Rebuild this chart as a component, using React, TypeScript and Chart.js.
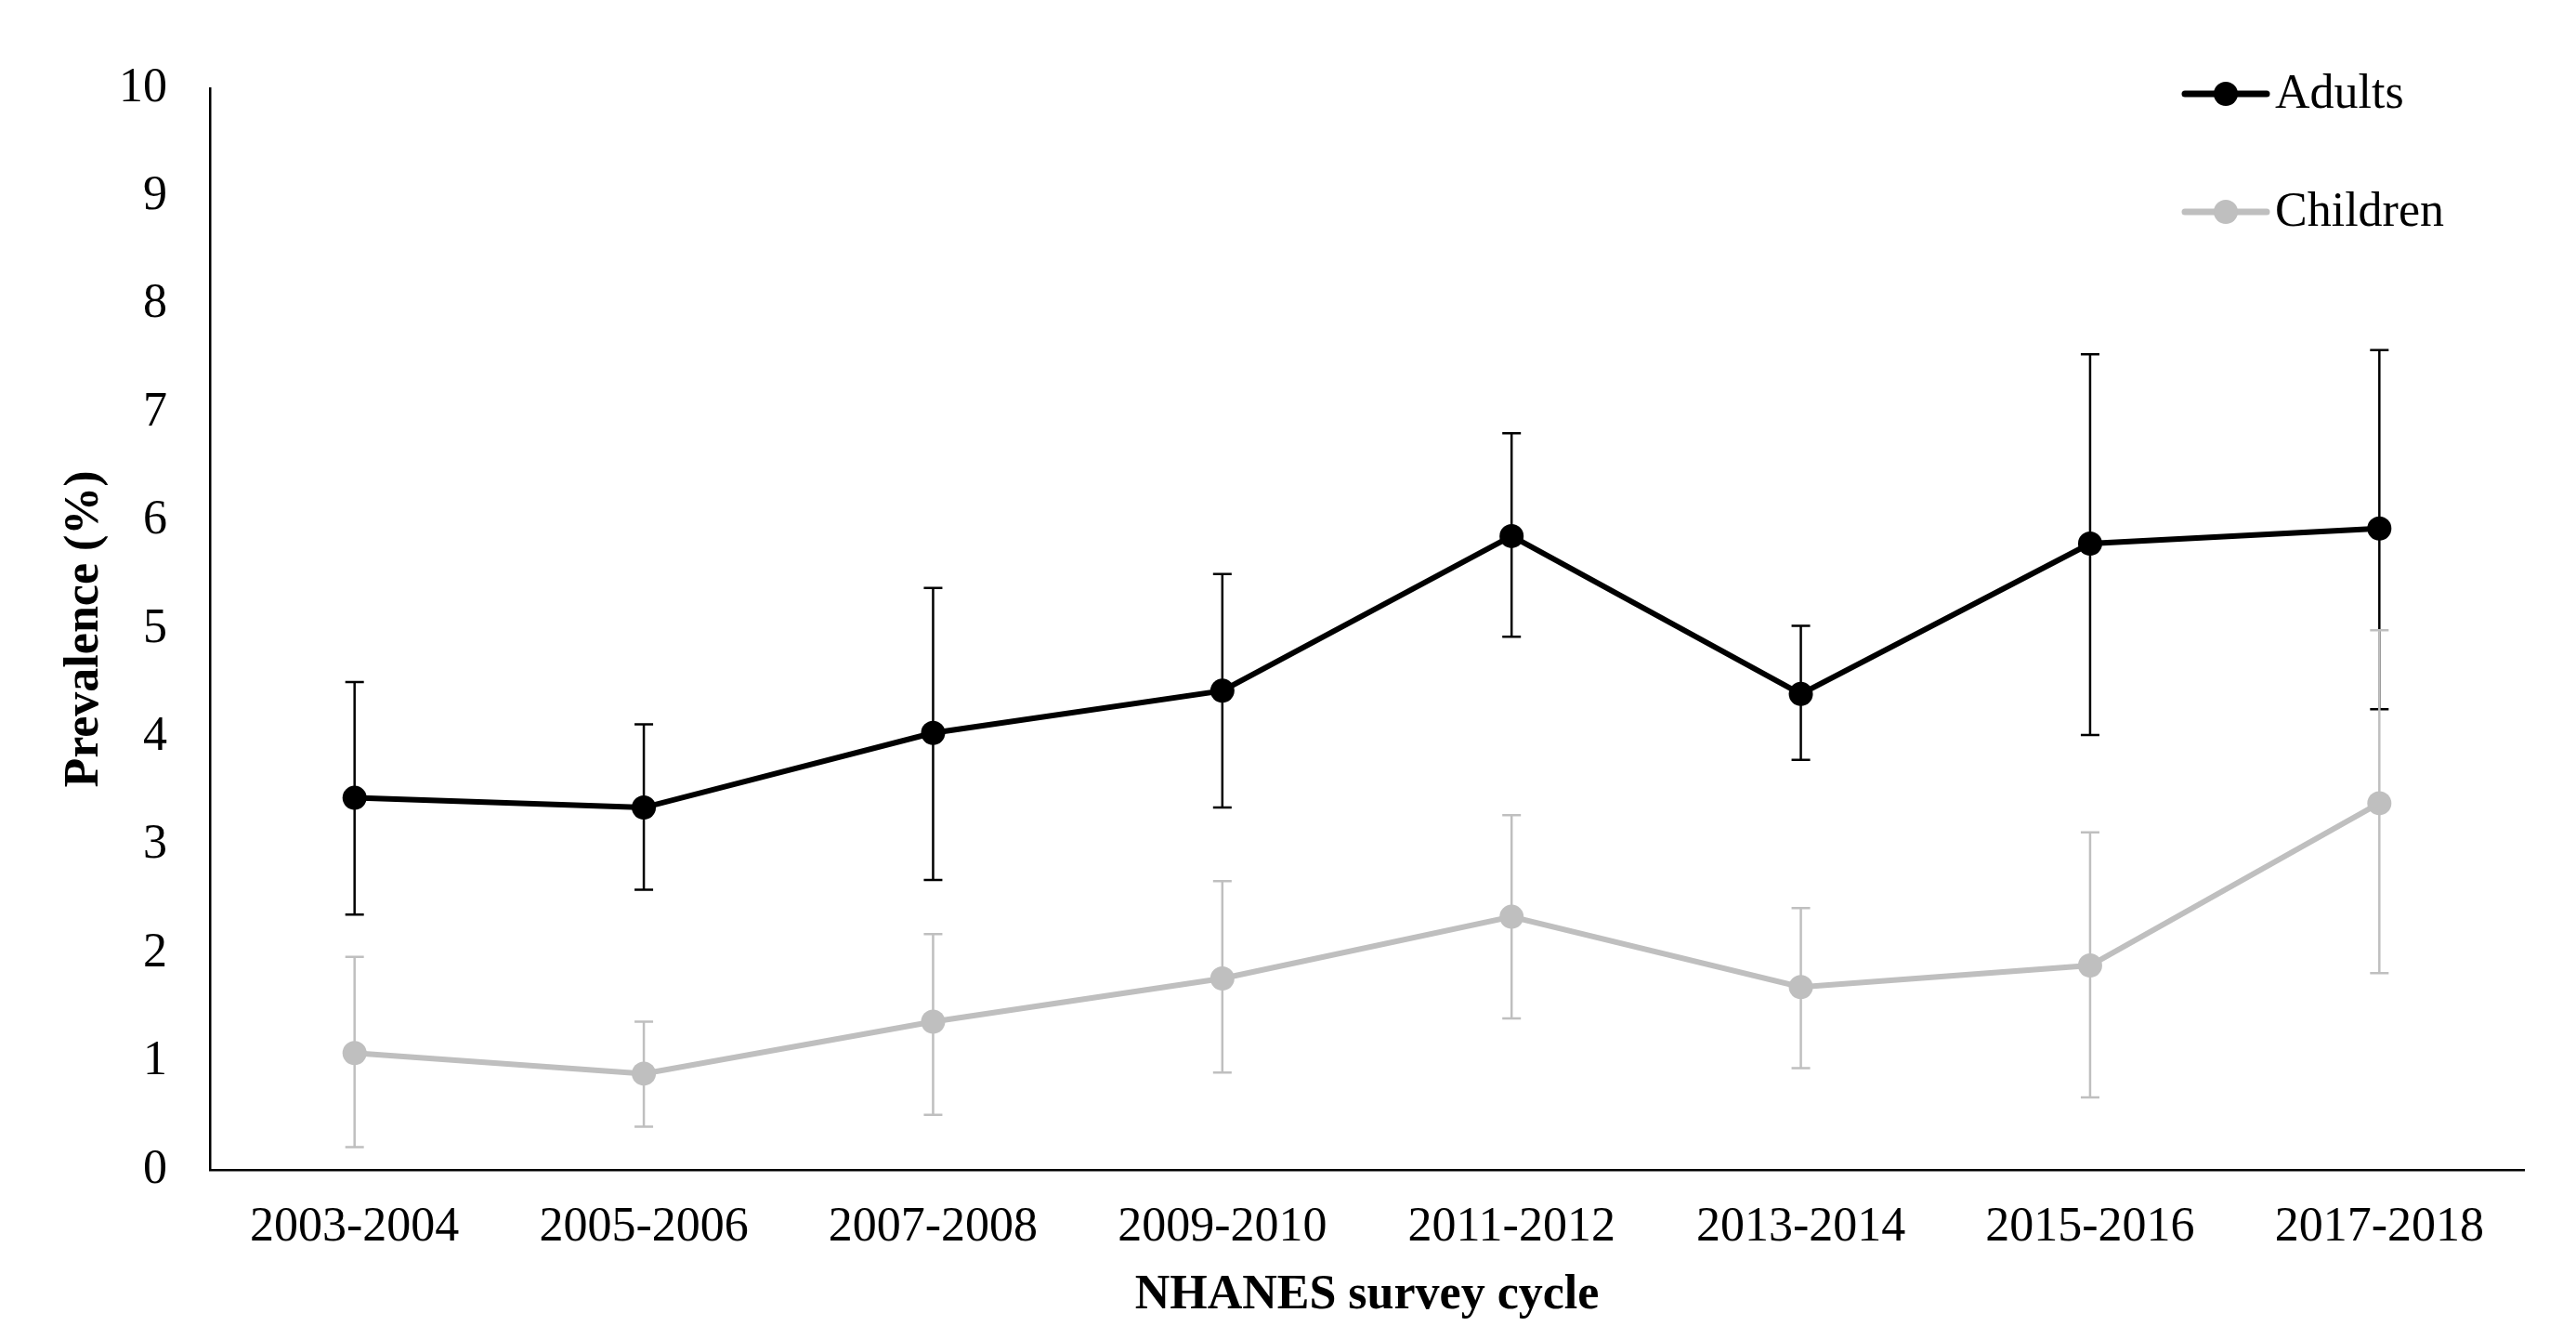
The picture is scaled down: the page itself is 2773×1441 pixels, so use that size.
import React, { useEffect, useRef } from 'react';
import { Chart, registerables } from 'chart.js';

Chart.register(...registerables);

const categories = ['2003-2004', '2005-2006', '2007-2008', '2009-2010', '2011-2012', '2013-2014', '2015-2016', '2017-2018'];
const adultsValues = [3.44, 3.35, 4.04, 4.43, 5.86, 4.40, 5.79, 5.93];
const adultsLower = [2.36, 2.59, 2.68, 3.35, 4.93, 3.79, 4.02, 4.26];
const adultsUpper = [4.51, 4.12, 5.38, 5.51, 6.81, 5.03, 7.54, 7.58];
const childrenValues = [1.08, 0.89, 1.37, 1.77, 2.34, 1.69, 1.89, 3.39];
const childrenLower = [0.21, 0.40, 0.51, 0.90, 1.40, 0.94, 0.67, 1.82];
const childrenUpper = [1.97, 1.37, 2.18, 2.67, 3.28, 2.42, 3.12, 4.99];
const yTicks = [0, 1, 2, 3, 4, 5, 6, 7, 8, 9, 10];
const seriesNames = ['Adults', 'Children'];

const FONT = "'Liberation Serif', 'Times New Roman', serif";
const BLACK = '#000000';
const GREY = '#BFBFBF';

const errorBarPlugin = {
  id: 'errorBars',
  beforeDatasetsDraw(chart: any) {
    const ctx = chart.ctx;
    const yScale = chart.scales.y;
    const sets = [
      { idx: 0, lower: adultsLower, upper: adultsUpper, color: BLACK },
      { idx: 1, lower: childrenLower, upper: childrenUpper, color: GREY },
    ];
    ctx.save();
    for (const s of sets) {
      const meta = chart.getDatasetMeta(s.idx);
      ctx.strokeStyle = s.color;
      ctx.lineWidth = 2.5;
      meta.data.forEach((pt: any, j: number) => {
        const x = pt.x;
        const yl = yScale.getPixelForValue(s.lower[j]);
        const yu = yScale.getPixelForValue(s.upper[j]);
        ctx.beginPath();
        ctx.moveTo(x, yl);
        ctx.lineTo(x, yu);
        ctx.moveTo(x - 10, yl);
        ctx.lineTo(x + 10, yl);
        ctx.moveTo(x - 10, yu);
        ctx.lineTo(x + 10, yu);
        ctx.stroke();
      });
    }
    ctx.restore();
  },
};

const legendPlugin = {
  id: 'customLegend',
  afterDraw(chart: any) {
    const ctx = chart.ctx;
    const area = chart.chartArea;
    const colors = [BLACK, GREY];
    const x0 = area.right - 365;
    const x1 = area.right - 277;
    const rows = [101, 228];
    ctx.save();
    seriesNames.forEach((name, i) => {
      const y = rows[i];
      ctx.strokeStyle = colors[i];
      ctx.lineWidth = 7;
      ctx.lineCap = 'round';
      ctx.beginPath();
      ctx.moveTo(x0, y);
      ctx.lineTo(x1, y);
      ctx.stroke();
      ctx.fillStyle = colors[i];
      ctx.beginPath();
      ctx.arc((x0 + x1) / 2, y, 13, 0, Math.PI * 2);
      ctx.fill();
      ctx.fillStyle = '#000';
      ctx.font = `52px ${FONT}`;
      ctx.textAlign = 'left';
      ctx.textBaseline = 'middle';
      ctx.fillText(name, x1 + 9, y + 1);
    });
    ctx.restore();
  },
};

export default function App() {
  const ref = useRef<HTMLCanvasElement | null>(null);

  useEffect(() => {
    if (!ref.current) return;
    const chart = new Chart(ref.current, {
      type: 'line',
      data: {
        labels: categories,
        datasets: [
          {
            label: seriesNames[0],
            data: adultsValues,
            borderColor: BLACK,
            backgroundColor: BLACK,
            borderWidth: 6,
            pointRadius: 13,
            pointBackgroundColor: BLACK,
            pointBorderWidth: 0,
            tension: 0,
            fill: false,
          },
          {
            label: seriesNames[1],
            data: childrenValues,
            borderColor: GREY,
            backgroundColor: GREY,
            borderWidth: 6,
            pointRadius: 13,
            pointBackgroundColor: GREY,
            pointBorderWidth: 0,
            tension: 0,
            fill: false,
          },
        ],
      },
      options: {
        responsive: false,
        animation: false,
        devicePixelRatio: 1,
        layout: { padding: { top: 95, right: 56, left: 0, bottom: 0 } },
        plugins: {
          legend: { display: false },
          tooltip: { enabled: false },
          title: { display: false },
        },
        scales: {
          x: {
            type: 'category',
            offset: true,
            grid: { display: false, drawTicks: false },
            border: { display: true, color: BLACK, width: 2.5 },
            ticks: {
              color: '#000',
              font: { family: FONT, size: 52 },
              padding: 31,
              maxRotation: 0,
              autoSkip: false,
            },
            title: {
              display: true,
              text: 'NHANES survey cycle',
              color: '#000',
              font: { family: FONT, size: 52, weight: 'bold' },
              padding: { top: 0, bottom: 15 },
            },
            afterFit: (scale: any) => {
              scale.height = 182;
            },
          },
          y: {
            type: 'linear',
            min: 0,
            max: 10,
            grid: { display: false, drawTicks: false },
            border: { display: true, color: BLACK, width: 2.5 },
            afterBuildTicks: (scale: any) => {
              scale.ticks = yTicks.map((v) => ({ value: v }));
            },
            ticks: {
              color: '#000',
              font: { family: FONT, size: 52 },
              padding: 46,
            },
            title: {
              display: true,
              text: 'Prevalence (%)',
              color: '#000',
              font: { family: FONT, size: 52, weight: 'bold' },
              padding: { top: 60, bottom: 0 },
            },
            afterFit: (scale: any) => {
              scale.width = 226;
            },
          },
        },
      },
      plugins: [errorBarPlugin, legendPlugin],
    } as any);
    return () => chart.destroy();
  }, []);

  return (
    <canvas
      ref={ref}
      width={2773}
      height={1441}
      style={{ position: 'absolute', left: 0, top: 0, display: 'block' }}
    />
  );
}
